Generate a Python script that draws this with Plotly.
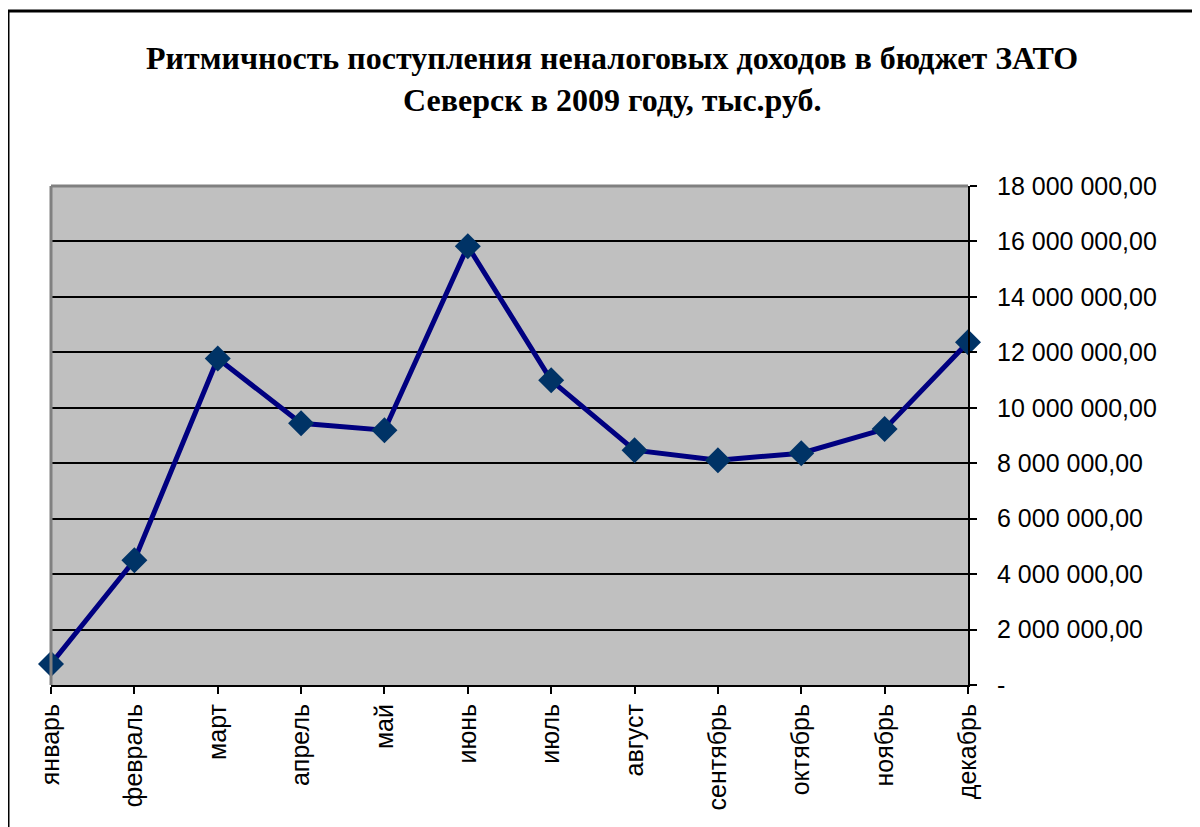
import plotly.graph_objects as go

months = ["январь", "февраль", "март", "апрель", "май", "июнь", "июль",
          "август", "сентябрь", "октябрь", "ноябрь", "декабрь"]
values = [760000, 4500000, 11780000, 9440000, 9190000, 15830000, 10990000,
          8470000, 8110000, 8360000, 9230000, 12360000]
y_ticks = [0, 2000000, 4000000, 6000000, 8000000, 10000000, 12000000,
           14000000, 16000000, 18000000]
title_lines = ["Ритмичность поступления неналоговых доходов в бюджет ЗАТО",
               "Северск в 2009 году, тыс.руб."]


def fmt(v):
    if v == 0:
        return "-"
    return f"{v:,.2f}".replace(",", " ").replace(".", ",")


y_text = [fmt(v) for v in y_ticks]

fig = go.Figure()
fig.add_trace(go.Scatter(
    x=list(range(len(months))), y=values, mode="lines+markers",
    line=dict(color="#000080", width=5),
    marker=dict(symbol="diamond", size=20, color="#003366",
                line=dict(width=0)),
    cliponaxis=False, showlegend=False, hoverinfo="skip"))

fig.update_layout(
    width=1200, height=827,
    margin=dict(l=43, r=240, t=178, b=150),
    paper_bgcolor="white", plot_bgcolor="#C0C0C0",
    font=dict(family="Liberation Sans, Arial", size=25, color="black"),
    xaxis=dict(
        tickmode="array", tickvals=list(range(len(months))), ticktext=months,
        range=[0, len(months) - 1], tickangle=-90, showgrid=False,
        showline=True, linecolor="black", linewidth=2,
        ticks="outside", ticklen=7, tickwidth=2, tickcolor="black",
        tickfont=dict(size=25), zeroline=False, fixedrange=True),
    yaxis=dict(
        side="right", tickmode="array", tickvals=y_ticks, ticktext=y_text,
        range=[0, 18000000], showgrid=True, gridcolor="black", gridwidth=2,
        showline=True, linecolor="black", linewidth=2,
        ticks="outside", ticklen=7, tickwidth=2, tickcolor="black",
        ticklabelstandoff=15, tickfont=dict(size=25), zeroline=False,
        fixedrange=True),
    shapes=[
        dict(type="line", xref="paper", yref="paper", x0=0, x1=0, y0=0, y1=1,
             line=dict(color="#808080", width=3), layer="above"),
        dict(type="line", xref="paper", yref="paper", x0=0, x1=1, y0=1, y1=1,
             line=dict(color="#808080", width=3), layer="above"),
        dict(type="rect", xref="paper", yref="paper",
             x0=(8 - 51) / 917, x1=1.6, y0=-0.6, y1=(685 - 11) / 499,
             line=dict(color="black", width=3), fillcolor="rgba(0,0,0,0)",
             layer="above"),
    ],
    annotations=[
        dict(text="<b>" + title_lines[0] + "</b>", xref="paper", yref="paper",
             x=(612 - 51) / 917, y=(685 - 58) / 499, showarrow=False,
             xanchor="center", yanchor="middle",
             font=dict(family="Liberation Serif, Times New Roman", size=32)),
        dict(text="<b>" + title_lines[1] + "</b>", xref="paper", yref="paper",
             x=(612 - 51) / 917, y=(685 - 100) / 499, showarrow=False,
             xanchor="center", yanchor="middle",
             font=dict(family="Liberation Serif, Times New Roman", size=32)),
    ],
)

fig.write_html("out.html")
